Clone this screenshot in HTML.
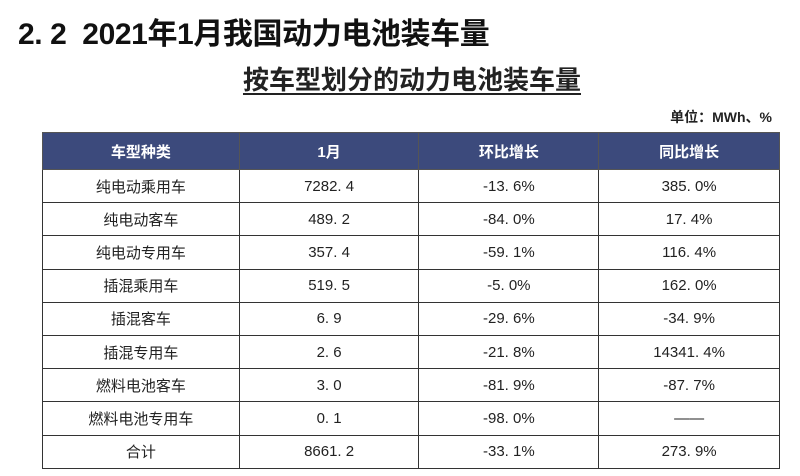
<!DOCTYPE html>
<html><head><meta charset="utf-8"><style>
body{margin:0;width:800px;height:476px;background:#fff;overflow:hidden;font-family:"Liberation Sans","Noto Sans CJK SC",sans-serif;position:relative;color:#222}
.t1{position:absolute;left:18px;top:9px;font-size:30px;font-weight:bold;color:#111;letter-spacing:-0.4px}
.t2{position:absolute;left:0;width:824px;top:60px;text-align:center;font-size:26px;font-weight:bold;}
.t2 span{text-decoration:underline;text-underline-offset:4px}
.unit{position:absolute;right:28px;top:107px;font-size:14px;font-weight:bold}
table{position:absolute;left:42px;top:132px;border-collapse:collapse;width:738px;font-size:15px}
td,th{border:1px solid #333;text-align:center;height:32.2px;padding:0}
th{background:#3c4a7c;color:#fff;font-weight:bold;font-size:15px;height:36px;border-color:#555}
</style></head><body>
<div class="t1">2. 2&nbsp; 2021年1月我国动力电池装车量</div>
<div class="t2"><span>按车型划分的动力电池装车量</span></div>
<div class="unit">单位：MWh、%</div>
<table>
<colgroup><col style="width:197px"><col style="width:180px"><col style="width:180px"><col style="width:181px"></colgroup>
<tr><th>车型种类</th><th>1月</th><th>环比增长</th><th>同比增长</th></tr>
<tr><td>纯电动乘用车</td><td>7282. 4</td><td>-13. 6%</td><td>385. 0%</td></tr>
<tr><td>纯电动客车</td><td>489. 2</td><td>-84. 0%</td><td>17. 4%</td></tr>
<tr><td>纯电动专用车</td><td>357. 4</td><td>-59. 1%</td><td>116. 4%</td></tr>
<tr><td>插混乘用车</td><td>519. 5</td><td>-5. 0%</td><td>162. 0%</td></tr>
<tr><td>插混客车</td><td>6. 9</td><td>-29. 6%</td><td>-34. 9%</td></tr>
<tr><td>插混专用车</td><td>2. 6</td><td>-21. 8%</td><td>14341. 4%</td></tr>
<tr><td>燃料电池客车</td><td>3. 0</td><td>-81. 9%</td><td>-87. 7%</td></tr>
<tr><td>燃料电池专用车</td><td>0. 1</td><td>-98. 0%</td><td>——</td></tr>
<tr><td>合计</td><td>8661. 2</td><td>-33. 1%</td><td>273. 9%</td></tr>
</table>
</body></html>
